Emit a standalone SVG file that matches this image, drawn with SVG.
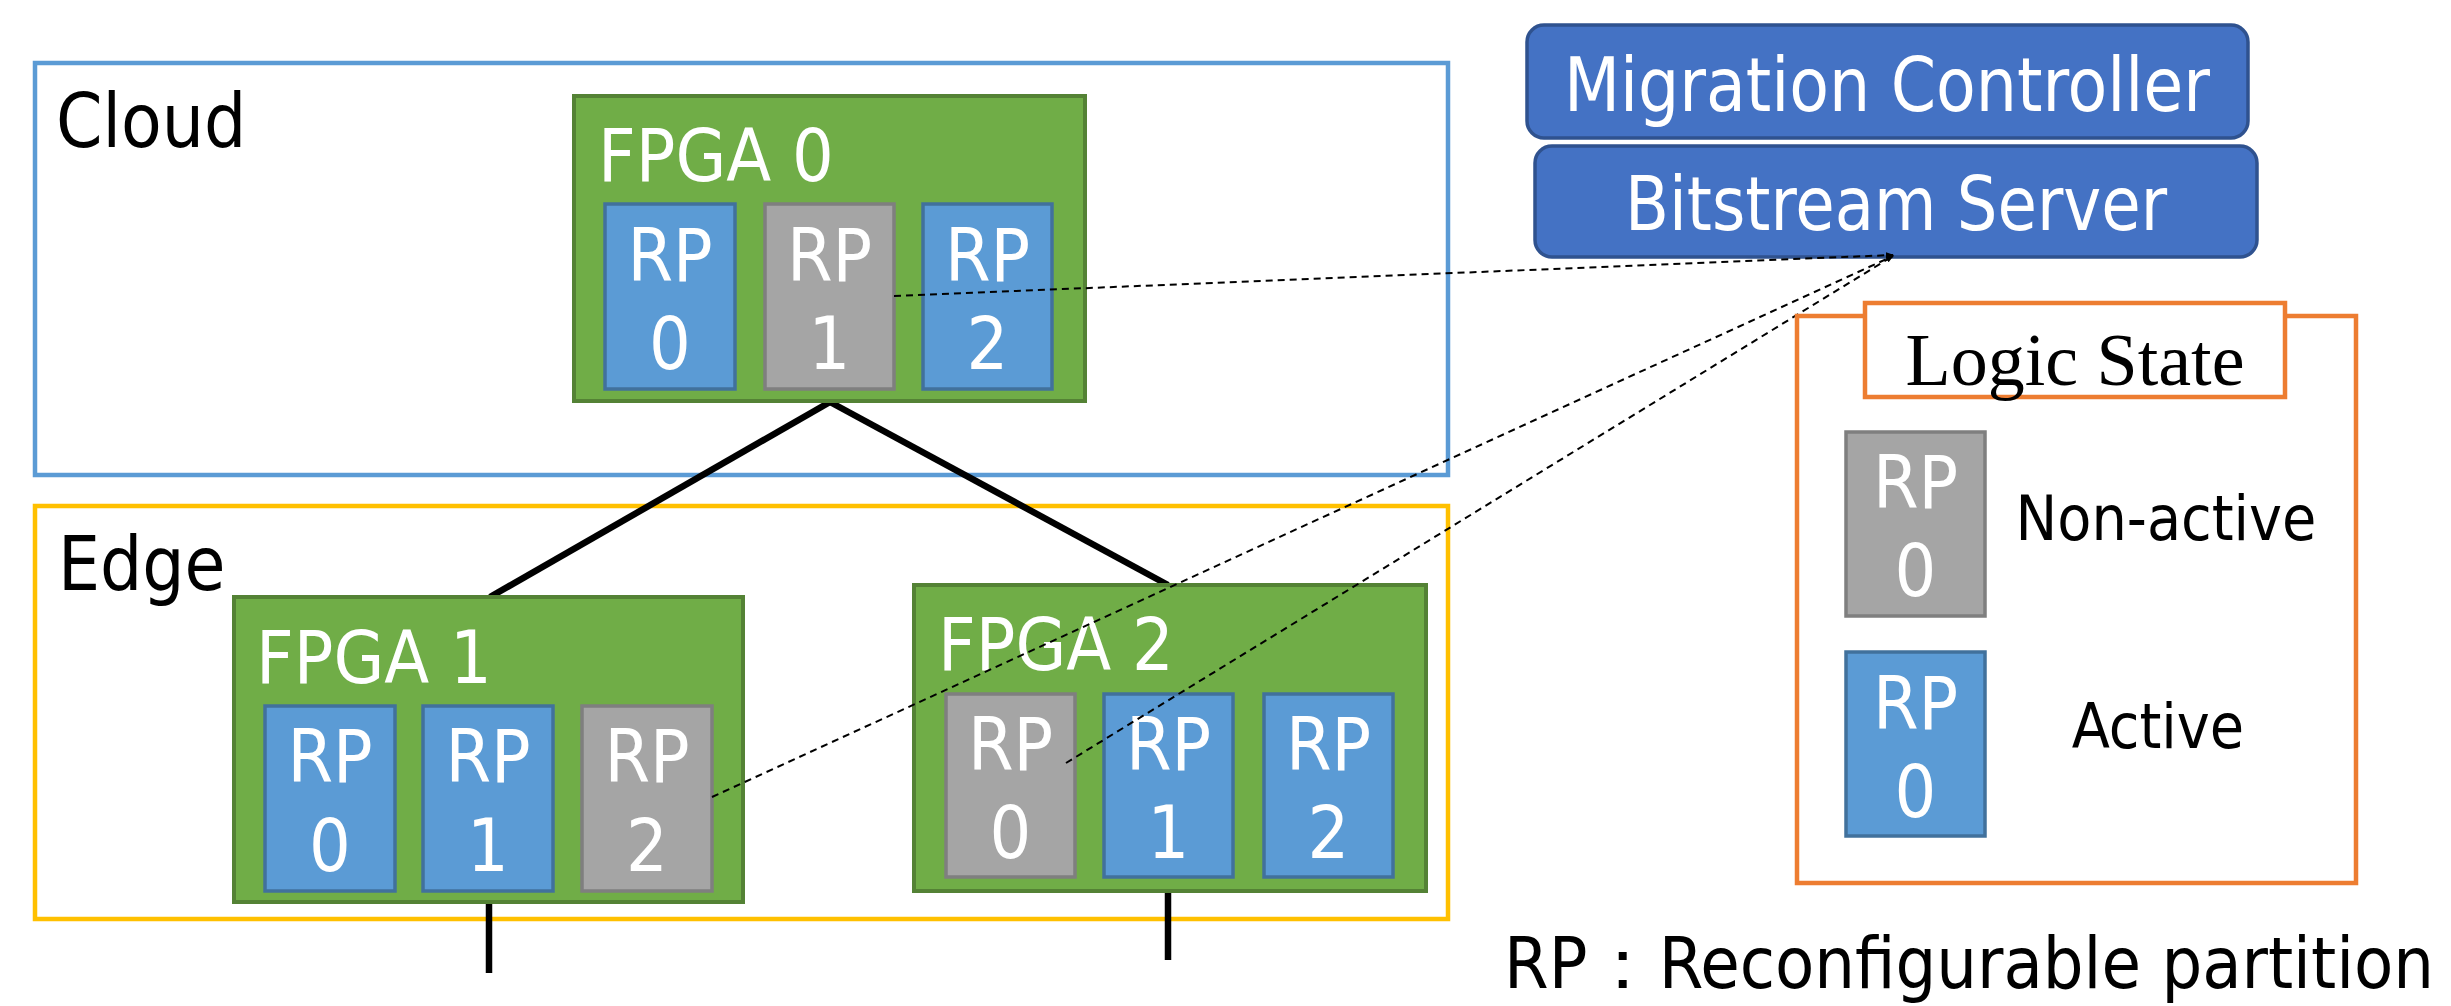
<svg xmlns="http://www.w3.org/2000/svg" width="2451" height="1006" viewBox="0 0 2451 1006">
<defs>
<style>
.t{font-family:"DejaVu Sans Condensed","DejaVu Sans",sans-serif;font-stretch:condensed;}
.w{fill:#ffffff;}
.k{fill:#000000;}
.fpga{fill:#70ad47;stroke:#548235;stroke-width:4;}
.act{fill:#5b9bd5;stroke:#41719c;stroke-width:3.5;}
.non{fill:#a5a5a5;stroke:#7f7f7f;stroke-width:3.5;}
.srv{fill:#4472c4;stroke:#2f528f;stroke-width:3.5;}
.rp{font-size:73px;text-anchor:middle;}
.lnk{stroke:#000;stroke-width:6.5;fill:none;}
.dash{stroke:#000;stroke-width:2;stroke-dasharray:7 5;fill:none;}
</style>
<marker id="ah" markerWidth="8" markerHeight="8" refX="7" refY="4" orient="auto" markerUnits="userSpaceOnUse">
<path d="M0,1 L8,4 L0,7 Z" fill="#000"/>
</marker>
</defs>
<rect width="2451" height="1006" fill="#ffffff"/>

<g id="cloud">
<rect x="35" y="63" width="1413" height="412" fill="none" stroke="#5b9bd5" stroke-width="4.5"/>
<text class="t k" x="56" y="147" font-size="74">Cloud</text>
</g>
<g id="edge">
<rect x="35" y="506" width="1413" height="413" fill="none" stroke="#ffc000" stroke-width="4.5"/>
<text class="t k" x="58" y="590" font-size="74">Edge</text>
</g>

<g id="connectors">
<line class="lnk" x1="830" y1="402" x2="490" y2="597"/>
<line class="lnk" x1="830" y1="402" x2="1168" y2="585"/>
<line class="lnk" x1="489" y1="900" x2="489" y2="973"/>
<line class="lnk" x1="1168" y1="889" x2="1168" y2="960"/>
</g>

<g id="fpga0">
<rect class="fpga" x="574" y="96" width="511" height="305"/>
<text class="t w" x="598" y="181" font-size="73">FPGA 0</text>
<g id="fpga0-rp0"><rect class="act" x="605" y="204" width="130" height="185"/><text class="t w rp" x="670" y="281">RP</text><text class="t w rp" x="670" y="369">0</text></g>
<g id="fpga0-rp1"><rect class="non" x="765" y="204" width="129" height="185"/><text class="t w rp" x="829.5" y="281">RP</text><text class="t w rp" x="829.5" y="369">1</text></g>
<g id="fpga0-rp2"><rect class="act" x="923" y="204" width="129" height="185"/><text class="t w rp" x="987.5" y="281">RP</text><text class="t w rp" x="987.5" y="369">2</text></g>
</g>

<g id="fpga1">
<rect class="fpga" x="234" y="597" width="509" height="305"/>
<text class="t w" x="256" y="683" font-size="73">FPGA 1</text>
<g id="fpga1-rp0"><rect class="act" x="265" y="706" width="130" height="185"/><text class="t w rp" x="330" y="782">RP</text><text class="t w rp" x="330" y="871">0</text></g>
<g id="fpga1-rp1"><rect class="act" x="423" y="706" width="130" height="185"/><text class="t w rp" x="488" y="782">RP</text><text class="t w rp" x="488" y="871">1</text></g>
<g id="fpga1-rp2"><rect class="non" x="582" y="706" width="130" height="185"/><text class="t w rp" x="647" y="782">RP</text><text class="t w rp" x="647" y="871">2</text></g>
</g>

<g id="fpga2">
<rect class="fpga" x="914" y="585" width="512" height="306"/>
<text class="t w" x="938" y="670" font-size="73">FPGA 2</text>
<g id="fpga2-rp0"><rect class="non" x="946" y="694" width="129" height="183"/><text class="t w rp" x="1010.5" y="770">RP</text><text class="t w rp" x="1010.5" y="858">0</text></g>
<g id="fpga2-rp1"><rect class="act" x="1104" y="694" width="129" height="183"/><text class="t w rp" x="1168.5" y="770">RP</text><text class="t w rp" x="1168.5" y="858">1</text></g>
<g id="fpga2-rp2"><rect class="act" x="1264" y="694" width="129" height="183"/><text class="t w rp" x="1328.5" y="770">RP</text><text class="t w rp" x="1328.5" y="858">2</text></g>
</g>

<g id="migration-controller">
<rect class="srv" x="1527" y="25" width="721" height="113" rx="17"/>
<text class="t w" x="1887" y="111" font-size="74" text-anchor="middle" textLength="646" lengthAdjust="spacingAndGlyphs">Migration Controller</text>
</g>
<g id="bitstream-server">
<rect class="srv" x="1535" y="146" width="722" height="111" rx="17"/>
<text class="t w" x="1896" y="230" font-size="74" text-anchor="middle" textLength="542" lengthAdjust="spacingAndGlyphs">Bitstream Server</text>
</g>

<g id="dashed-links">
<line class="dash" x1="894" y1="296" x2="1893" y2="255" marker-end="url(#ah)"/>
<line class="dash" x1="712" y1="797" x2="1893" y2="256" marker-end="url(#ah)"/>
<line class="dash" x1="1066" y1="763" x2="1893" y2="256" marker-end="url(#ah)"/>
</g>

<g id="legend">
<rect x="1797" y="316" width="559" height="567" fill="none" stroke="#ed7d31" stroke-width="4.5"/>
<rect x="1865" y="303" width="420" height="94" fill="#ffffff" stroke="#ed7d31" stroke-width="4.5"/>
<text x="2075" y="385" font-size="74" text-anchor="middle" font-family="'Liberation Serif',serif" fill="#000">Logic State</text>
<g id="legend-non"><rect class="non" x="1846" y="432" width="139" height="184"/><text class="t w rp" x="1915.5" y="508">RP</text><text class="t w rp" x="1915.5" y="596">0</text></g>
<text class="t k" x="2166" y="540" font-size="62" text-anchor="middle">Non-active</text>
<g id="legend-act"><rect class="act" x="1846" y="652" width="139" height="184"/><text class="t w rp" x="1915.5" y="729">RP</text><text class="t w rp" x="1915.5" y="817">0</text></g>
<text class="t k" x="2158" y="748" font-size="62" text-anchor="middle">Active</text>
</g>

<text class="t k" x="1504" y="988" font-size="71" textLength="930" lengthAdjust="spacingAndGlyphs" font-family="'DejaVu Sans Condensed','DejaVu Sans','Noto Sans CJK JP',sans-serif">RP：Reconfigurable partition</text>
</svg>
